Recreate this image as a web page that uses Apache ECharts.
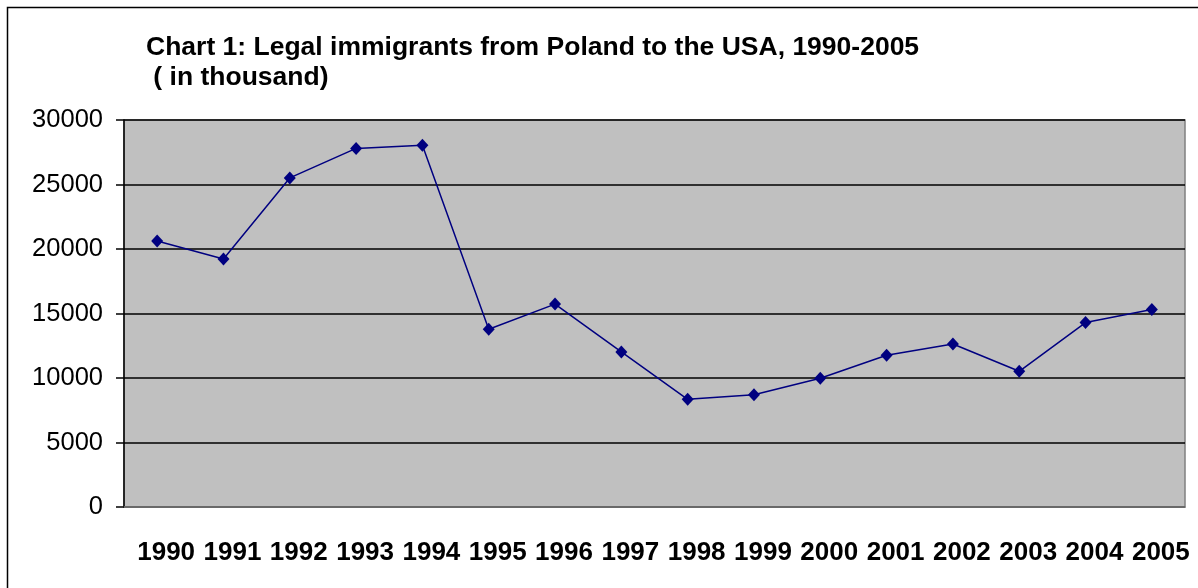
<!DOCTYPE html>
<html>
<head>
<meta charset="utf-8">
<script src="https://cdn.jsdelivr.net/npm/echarts@6/dist/echarts.min.js"></script>
<style>html,body{margin:0;padding:0;background:#fff;}#c{width:1198px;height:588px;}</style>
</head>
<body>
<div id="c"></div>
<script>
const years = ['1990','1991','1992','1993','1994','1995','1996','1997','1998','1999','2000','2001','2002','2003','2004','2005'];
const immigrants = [20620,19220,25510,27800,28050,13780,15730,12020,8345,8700,9975,11760,12640,10520,14300,15310];
const titleText = 'Chart 1: Legal immigrants from Poland to the USA, 1990-2005\n ( in thousand)';

const chart = echarts.init(document.getElementById('c'), null, {renderer:'canvas'});
chart.setOption({
  animation:false,
  backgroundColor:'#ffffff',
  title:{
    text:titleText, left:141, top:27,
    textStyle:{fontFamily:'Liberation Sans, Arial, sans-serif', fontWeight:'bold', fontSize:26.5, color:'#000', lineHeight:30.5}
  },
  graphic:[{type:'rect', shape:{x:7.5,y:7.5,width:1300,height:700}, style:{fill:'none', stroke:'#000', lineWidth:1.5}, silent:true}],
  grid:{left:124, right:13, top:120, bottom:81, show:true, backgroundColor:'#C0C0C0', borderColor:'#808080', borderWidth:1.5},
  xAxis:{
    type:'category', data:years, boundaryGap:true,
    axisLine:{show:true, lineStyle:{color:'#808080', width:1.5}},
    axisTick:{show:false},
    axisLabel:{margin:33, fontFamily:'Liberation Sans, Arial, sans-serif', fontWeight:'bold', fontSize:26, color:'#000', padding:[0,0,0,18], interval:0}
  },
  yAxis:{
    type:'value', min:0, max:30000, interval:5000,
    axisLine:{show:true, lineStyle:{color:'#000', width:1.5}},
    axisTick:{show:true, length:8, lineStyle:{color:'#000', width:1.5}},
    axisLabel:{margin:21, fontFamily:'Liberation Sans, Arial, sans-serif', fontSize:25.5, color:'#000', formatter:function(v){return String(v);}},
    splitLine:{show:true, lineStyle:{color:'#000', width:1.5}}
  },
  series:[{
    type:'line', data:immigrants,
    symbol:'diamond', symbolSize:[12,13],
    lineStyle:{color:'#000080', width:1.5},
    itemStyle:{color:'#000080'}
  }]
});
</script>
</body>
</html>
